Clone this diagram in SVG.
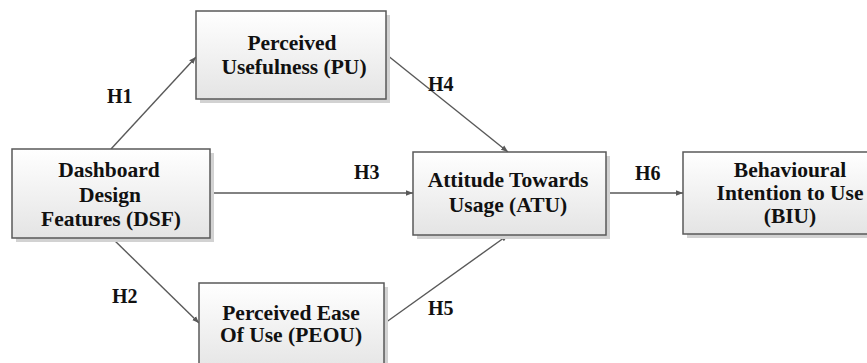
<svg xmlns="http://www.w3.org/2000/svg" width="867" height="363" viewBox="0 0 867 363">
<defs>
<linearGradient id="g" x1="0" y1="0" x2="0" y2="1">
<stop offset="0" stop-color="#ffffff"/>
<stop offset="1" stop-color="#e4e4e4"/>
</linearGradient>
<marker id="arr" viewBox="0 0 10 10" refX="10" refY="5" markerWidth="7" markerHeight="7" markerUnits="userSpaceOnUse" orient="auto">
<path d="M0,1 L10,5 L0,9 z" fill="#595959"/>
</marker>
<style>
.shadow{fill:#d2d2d2}
.box{fill:url(#g);stroke:#595959;stroke-width:1.5}
.t{font-weight:bold;font-size:21.5px;fill:#111;text-anchor:middle}
.lbl{font-weight:bold;font-size:20px;fill:#111}
.c{stroke:#595959;stroke-width:1.4;fill:none;marker-end:url(#arr)}
</style>
</defs>
<rect width="867" height="363" fill="#ffffff"/>
<g font-family="Liberation Serif, DejaVu Serif, serif">
<g id="connectors">
<line class="c" x1="111" y1="149" x2="196" y2="57"/>
<line class="c" x1="387" y1="55" x2="508" y2="152"/>
<line class="c" x1="210" y1="193" x2="413" y2="193"/>
<line class="c" x1="112" y1="238" x2="199" y2="323"/>
<line class="c" x1="385" y1="323" x2="508" y2="235"/>
<line class="c" x1="606" y1="193" x2="683" y2="193"/>
<text class="lbl" x="107" y="103">H1</text>
<text class="lbl" x="428" y="91">H4</text>
<text class="lbl" x="354" y="179">H3</text>
<text class="lbl" x="635" y="180">H6</text>
<text class="lbl" x="112" y="303">H2</text>
<text class="lbl" x="428" y="315">H5</text>
</g>
<g id="node-pu">
<rect class="shadow" x="200" y="15" width="190" height="88"/>
<rect class="box" x="196" y="11" width="190" height="88"/>
<text class="t" x="292" y="50">Perceived</text>
<text class="t" x="294" y="74">Usefulness (PU)</text>
</g>
<g id="node-dsf">
<rect class="shadow" x="16" y="153" width="198" height="89"/>
<rect class="box" x="12" y="149" width="198" height="89"/>
<text class="t" x="109" y="177">Dashboard</text>
<text class="t" x="110" y="202">Design</text>
<text class="t" x="111" y="226">Features (DSF)</text>
</g>
<g id="node-atu">
<rect class="shadow" x="417" y="156" width="193" height="83"/>
<rect class="box" x="413" y="152" width="193" height="83"/>
<text class="t" x="508" y="187">Attitude Towards</text>
<text class="t" x="508" y="212">Usage (ATU)</text>
</g>
<g id="node-biu">
<rect class="shadow" x="687" y="156" width="190" height="82"/>
<rect class="box" x="683" y="152" width="190" height="82"/>
<text class="t" x="790" y="177">Behavioural</text>
<text class="t" x="790" y="200">Intention to Use</text>
<text class="t" x="790" y="223">(BIU)</text>
</g>
<g id="node-peou">
<rect class="shadow" x="203" y="287" width="185" height="90"/>
<rect class="box" x="199" y="283" width="185" height="90"/>
<text class="t" x="291" y="320">Perceived Ease</text>
<text class="t" x="291" y="342">Of Use (PEOU)</text>
</g>
</g>
</svg>
